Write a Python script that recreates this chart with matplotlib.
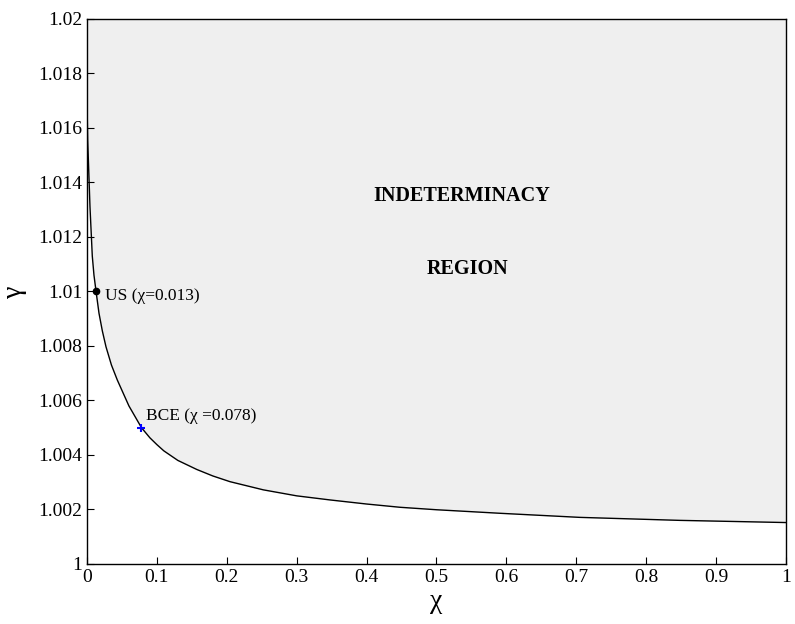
import matplotlib
matplotlib.use("Agg")
import matplotlib.pyplot as plt
from matplotlib.ticker import FuncFormatter

# Boundary curve
chi = [0.0, 0.001, 0.0043, 0.0076, 0.0100, 0.013, 0.0172, 0.022, 0.0272, 0.035, 0.0434,
       0.06, 0.078, 0.09, 0.1, 0.11, 0.13, 0.1569, 0.18, 0.2046, 0.2523, 0.3, 0.3476,
       0.4, 0.448, 0.5, 0.591, 0.705, 0.848, 1.0]
gamma = [1.0170, 1.01556, 1.01311, 1.01130, 1.01060, 1.0100, 1.0092, 1.00855, 1.00797, 1.00730,
         1.00675, 1.0058, 1.0050, 1.00463, 1.00438, 1.00415, 1.00380, 1.00347, 1.00323, 1.00302,
         1.00272, 1.00250, 1.00235, 1.0022, 1.00208, 1.00199, 1.00186, 1.00171, 1.0016, 1.00152]

us_point = (0.013, 1.010)
bce_point = (0.078, 1.005)

xticks = [0, 0.1, 0.2, 0.3, 0.4, 0.5, 0.6, 0.7, 0.8, 0.9, 1]
yticks = [1, 1.002, 1.004, 1.006, 1.008, 1.01, 1.012, 1.014, 1.016, 1.018, 1.02]

plt.rcParams['font.family'] = ['Liberation Serif', 'DejaVu Serif']

fig = plt.figure(figsize=(7.95, 6.24), dpi=100)
ax = fig.add_axes([0.1094, 0.0962, 0.8793, 0.8734])

ax.fill_between(chi, gamma, 1.02, color='#efefef', linewidth=0)
ax.plot(chi, gamma, color='black', linewidth=1.0)
ax.plot([us_point[0]], [us_point[1]], 'o', color='black', markersize=4.5)
ax.plot([bce_point[0]], [bce_point[1]], '+', color='blue', markersize=6, markeredgewidth=1.5)

ax.text(0.0258, 1.00983, 'US (χ=0.013)', fontsize=12.5, va='center', ha='left')
ax.text(0.0844, 1.00544, 'BCE (χ =0.078)', fontsize=12.5, va='center', ha='left')
ax.text(0.536, 1.0135, 'INDETERMINACY', fontsize=14.5, fontweight='bold', ha='center', va='center')
ax.text(0.545, 1.01083, 'REGION', fontsize=14.5, fontweight='bold', ha='center', va='center')

ax.set_xlim(0, 1)
ax.set_ylim(1, 1.02)
ax.set_xticks(xticks)
ax.set_yticks(yticks)
fmt = FuncFormatter(lambda v, p: ('%.3f' % v).rstrip('0').rstrip('.'))
ax.xaxis.set_major_formatter(FuncFormatter(lambda v, p: ('%.1f' % v).rstrip('0').rstrip('.') if v != 0 else '0'))
ax.yaxis.set_major_formatter(fmt)
ax.tick_params(direction='in', length=5, width=0.8, labelsize=14, top=False, right=False)
for s in ax.spines.values():
    s.set_linewidth(1.0)

ax.set_xlabel('χ', fontsize=20, labelpad=2)
ax.set_ylabel('γ', fontsize=20, labelpad=8)

fig.savefig('out.png', dpi=100)
